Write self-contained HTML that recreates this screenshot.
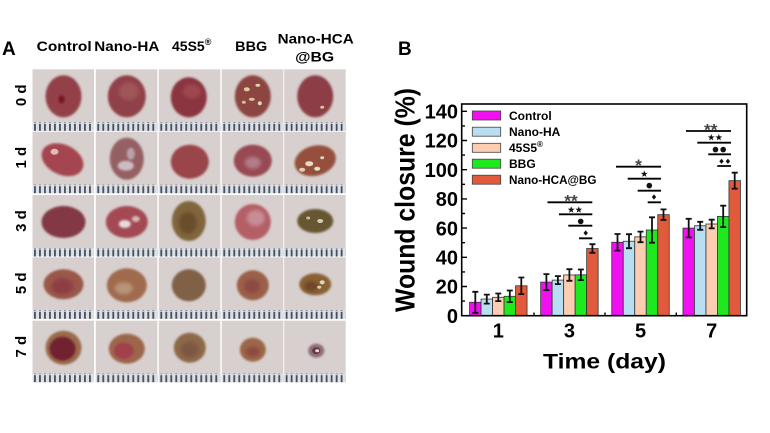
<!DOCTYPE html>
<html><head><meta charset="utf-8"><style>
html,body{margin:0;padding:0;background:#fff;}
svg{display:block;}
text{font-family:"Liberation Sans",Arial,sans-serif;font-weight:bold;fill:#000;}
</style></head><body>
<svg width="770" height="433" viewBox="0 0 770 433" xmlns="http://www.w3.org/2000/svg">
<defs>
<pattern id="rul" patternUnits="userSpaceOnUse" width="5" height="9"><rect width="5" height="9" fill="#dcdfe4"/><rect x="1.6" y="0.5" width="1.7" height="8" fill="#3c4656"/></pattern>
<filter id="bl" x="-20%" y="-20%" width="140%" height="140%"><feGaussianBlur stdDeviation="1"/></filter>
<filter id="bl2" x="-20%" y="-20%" width="140%" height="140%"><feGaussianBlur stdDeviation="1.8"/></filter>
<polygon id="star" points="0,-3.6 0.85,-1.17 3.42,-1.11 1.38,0.45 2.12,2.91 0,1.45 -2.12,2.91 -1.38,0.45 -3.42,-1.11 -0.85,-1.17" fill="#111"/>
<polygon id="dia" points="0,-2.6 2.2,0 0,2.6 -2.2,0" fill="#111"/>
<rect id="cellbg" width="61.5" height="61.5" fill="#d8d0ce"/>
<rect id="ruler" y="53" width="61.5" height="8.5" fill="url(#rul)"/>
</defs>
<rect width="770" height="433" fill="#fff"/>

<!-- Panel A -->
<text x="2" y="55" font-size="19">A</text>
<text x="64.2" y="51" font-size="14" text-anchor="middle" textLength="55" lengthAdjust="spacingAndGlyphs">Control</text>
<text x="126.8" y="51" font-size="14" text-anchor="middle" textLength="65" lengthAdjust="spacingAndGlyphs">Nano-HA</text>
<text x="191.7" y="51" font-size="14" text-anchor="middle">45S5<tspan font-size="9" dy="-6">®</tspan></text>
<text x="251.2" y="51" font-size="14" text-anchor="middle" textLength="32" lengthAdjust="spacingAndGlyphs">BBG</text>
<text x="315.7" y="43.3" font-size="14" text-anchor="middle" textLength="76" lengthAdjust="spacingAndGlyphs">Nano-HCA</text>
<text x="314.7" y="61.7" font-size="14" text-anchor="middle" textLength="39" lengthAdjust="spacingAndGlyphs">@BG</text>

<text transform="translate(26,95.3) rotate(-90)" font-size="15" text-anchor="middle">0 d</text>
<text transform="translate(26,157.7) rotate(-90)" font-size="15" text-anchor="middle">1 d</text>
<text transform="translate(26,221) rotate(-90)" font-size="15" text-anchor="middle">3 d</text>
<text transform="translate(26,283.3) rotate(-90)" font-size="15" text-anchor="middle">5 d</text>
<text transform="translate(26,346.7) rotate(-90)" font-size="15" text-anchor="middle">7 d</text>

<!-- Row 0d -->
<g transform="translate(32.5,69.3)"><use href="#cellbg"/>
<ellipse cx="31" cy="27" rx="18" ry="21" fill="#94404a" filter="url(#bl)"/><ellipse cx="29" cy="30" rx="3" ry="4" fill="#741824" filter="url(#bl)"/><use href="#ruler"/></g>
<g transform="translate(95.8,69.3)"><use href="#cellbg"/>
<ellipse cx="31" cy="27" rx="19" ry="21" fill="#904048" filter="url(#bl)"/><ellipse cx="33" cy="22" rx="10" ry="9" fill="#a05458" filter="url(#bl2)"/><use href="#ruler"/></g>
<g transform="translate(158.8,69.3)"><use href="#cellbg"/>
<ellipse cx="30" cy="28" rx="18" ry="20" fill="#8a3440" filter="url(#bl)"/><ellipse cx="33" cy="22" rx="9" ry="7" fill="#9e464e" filter="url(#bl2)"/><use href="#ruler"/></g>
<g transform="translate(221.8,69.3)"><use href="#cellbg"/>
<ellipse cx="31" cy="27" rx="18" ry="21" fill="#8c4440" filter="url(#bl)"/>
<ellipse cx="25" cy="20" rx="3" ry="2" fill="#dccca4"/><ellipse cx="36" cy="16" rx="2.5" ry="1.5" fill="#e0d2b0"/><ellipse cx="30" cy="30" rx="3" ry="1.5" fill="#d8c69c"/><ellipse cx="38" cy="34" rx="2" ry="2" fill="#e2d6b8"/><ellipse cx="22" cy="33" rx="2" ry="1.5" fill="#d6c296"/><use href="#ruler"/></g>
<g transform="translate(284.2,69.3)"><use href="#cellbg"/>
<ellipse cx="31" cy="27" rx="18" ry="21" fill="#8c3c44" filter="url(#bl)"/><ellipse cx="38" cy="38" rx="2" ry="1.5" fill="#d6c4b0"/><use href="#ruler"/></g>

<!-- Row 1d -->
<g transform="translate(32.5,131.7)"><use href="#cellbg"/>
<ellipse cx="30" cy="28" rx="22" ry="15" transform="rotate(25 30 28)" fill="#a44450" filter="url(#bl)"/><ellipse cx="22" cy="20" rx="4" ry="3" fill="#dcbcb4"/><use href="#ruler"/></g>
<g transform="translate(95.8,131.7)"><use href="#cellbg"/>
<ellipse cx="31" cy="27" rx="17" ry="21" fill="#946064" filter="url(#bl)"/><ellipse cx="30" cy="34" rx="8" ry="5" fill="#ccbcc0" filter="url(#bl)"/><ellipse cx="35" cy="22" rx="4" ry="6" fill="#bca0a8" filter="url(#bl)"/><use href="#ruler"/></g>
<g transform="translate(158.8,131.7)"><use href="#cellbg"/>
<ellipse cx="31" cy="30" rx="19" ry="17" fill="#9a4448" filter="url(#bl)"/><use href="#ruler"/></g>
<g transform="translate(221.8,131.7)"><use href="#cellbg"/>
<ellipse cx="31" cy="29" rx="19" ry="16" fill="#984a52" filter="url(#bl)"/><ellipse cx="31" cy="31" rx="8" ry="6" fill="#b47c86" filter="url(#bl2)"/><use href="#ruler"/></g>
<g transform="translate(284.2,131.7)"><use href="#cellbg"/>
<ellipse cx="31" cy="29" rx="21" ry="15" transform="rotate(-15 31 29)" fill="#96503e" filter="url(#bl)"/>
<ellipse cx="25" cy="32" rx="4" ry="2.5" fill="#e4dcc4"/><ellipse cx="33" cy="37" rx="3" ry="2" fill="#e6e0ca"/><ellipse cx="18" cy="38" rx="3" ry="2" fill="#dcd0b4"/><ellipse cx="38" cy="26" rx="2" ry="1.5" fill="#e2d6b8"/><use href="#ruler"/></g>

<!-- Row 3d -->
<g transform="translate(32.5,195)"><use href="#cellbg"/>
<ellipse cx="31" cy="27" rx="22" ry="16" fill="#823844" filter="url(#bl)"/><use href="#ruler"/></g>
<g transform="translate(95.8,195)"><use href="#cellbg"/>
<ellipse cx="31" cy="27" rx="21" ry="16" fill="#a44a52" filter="url(#bl)"/><ellipse cx="29" cy="29" rx="6" ry="4" fill="#e6dada" filter="url(#bl)"/><ellipse cx="40" cy="24" rx="4" ry="3" fill="#d4b8b8" filter="url(#bl)"/><use href="#ruler"/></g>
<g transform="translate(158.8,195)"><use href="#cellbg"/>
<ellipse cx="30" cy="26" rx="17" ry="20" fill="#80663c" filter="url(#bl)"/><ellipse cx="29" cy="28" rx="9" ry="11" fill="#6a4e2c" filter="url(#bl2)"/><use href="#ruler"/></g>
<g transform="translate(221.8,195)"><use href="#cellbg"/>
<ellipse cx="31" cy="27" rx="18" ry="18" fill="#b45e66" filter="url(#bl)"/><ellipse cx="34" cy="23" rx="9" ry="8" fill="#c88c94" filter="url(#bl2)"/><use href="#ruler"/></g>
<g transform="translate(284.2,195)"><use href="#cellbg"/>
<ellipse cx="31" cy="26" rx="18" ry="12" fill="#665630" filter="url(#bl)"/><ellipse cx="36" cy="26" rx="3" ry="2" fill="#d8cdb0"/><ellipse cx="24" cy="23" rx="2" ry="1.5" fill="#ccbc94"/><use href="#ruler"/></g>

<!-- Row 5d -->
<g transform="translate(32.5,257.3)"><use href="#cellbg"/>
<ellipse cx="31" cy="27" rx="20" ry="15" fill="#9a5848" filter="url(#bl)"/><ellipse cx="30" cy="29" rx="11" ry="8" fill="#8e3e44" filter="url(#bl2)"/><use href="#ruler"/></g>
<g transform="translate(95.8,257.3)"><use href="#cellbg"/>
<ellipse cx="31" cy="28" rx="20" ry="17" fill="#a06a4e" filter="url(#bl)"/><ellipse cx="28" cy="31" rx="9" ry="6" fill="#b89478" filter="url(#bl2)"/><use href="#ruler"/></g>
<g transform="translate(158.8,257.3)"><use href="#cellbg"/>
<ellipse cx="30" cy="28" rx="17" ry="16" fill="#806046" filter="url(#bl)"/><use href="#ruler"/></g>
<g transform="translate(221.8,257.3)"><use href="#cellbg"/>
<ellipse cx="31" cy="28" rx="16" ry="15" fill="#9a6048" filter="url(#bl)"/><ellipse cx="30" cy="29" rx="8" ry="7" fill="#8c4842" filter="url(#bl2)"/><use href="#ruler"/></g>
<g transform="translate(284.2,257.3)"><use href="#cellbg"/>
<ellipse cx="31" cy="27" rx="16" ry="11" fill="#8a6234" filter="url(#bl)"/><ellipse cx="27" cy="29" rx="7" ry="5" fill="#6e4628" filter="url(#bl2)"/><ellipse cx="38" cy="25" rx="2.5" ry="2" fill="#e0d4ba"/><ellipse cx="35" cy="30" rx="2" ry="1.5" fill="#dacdb2"/><use href="#ruler"/></g>

<!-- Row 7d -->
<g transform="translate(32.5,320.7)"><use href="#cellbg"/>
<ellipse cx="31" cy="27" rx="18" ry="17" fill="#9a6a4c" filter="url(#bl)"/><ellipse cx="30" cy="28" rx="13" ry="12" fill="#72222e" filter="url(#bl)"/><use href="#ruler"/></g>
<g transform="translate(95.8,320.7)"><use href="#cellbg"/>
<ellipse cx="31" cy="28" rx="18" ry="15" fill="#9c664c" filter="url(#bl)"/><ellipse cx="28" cy="30" rx="10" ry="8" fill="#a2404c" filter="url(#bl)"/><use href="#ruler"/></g>
<g transform="translate(158.8,320.7)"><use href="#cellbg"/>
<ellipse cx="31" cy="27" rx="16" ry="15" fill="#8c6a4a" filter="url(#bl)"/><ellipse cx="31" cy="29" rx="9" ry="8" fill="#7e5642" filter="url(#bl2)"/><use href="#ruler"/></g>
<g transform="translate(221.8,320.7)"><use href="#cellbg"/>
<ellipse cx="31" cy="29" rx="13" ry="12" fill="#9c6648" filter="url(#bl)"/><ellipse cx="31" cy="31" rx="7" ry="5" fill="#8e4840" filter="url(#bl2)"/><use href="#ruler"/></g>
<g transform="translate(284.2,320.7)"><use href="#cellbg"/>
<ellipse cx="32" cy="30" rx="8" ry="7" fill="#8e6c7a" filter="url(#bl)"/><ellipse cx="32" cy="30" rx="4" ry="3.5" fill="#643842"/><ellipse cx="33" cy="30" rx="2" ry="1.5" fill="#e2dad2"/><use href="#ruler"/></g>

<!-- Panel B -->
<text x="398" y="55" font-size="19">B</text>

<!-- bars -->
<g stroke="#333" stroke-width="0.8">
<rect x="469.55" y="302.27" width="11.5" height="13.43" fill="#f010f0"/>
<rect x="481.05" y="299.06" width="11.5" height="16.64" fill="#b8def2"/>
<rect x="492.55" y="297.3" width="11.5" height="18.4" fill="#fccdb0"/>
<rect x="504.05" y="296.28" width="11.5" height="19.42" fill="#1ee81e"/>
<rect x="515.55" y="285.77" width="11.5" height="29.93" fill="#e25a3c"/>

<rect x="540.65" y="282.1" width="11.5" height="33.6" fill="#f010f0"/>
<rect x="552.15" y="280.1" width="11.5" height="35.6" fill="#b8def2"/>
<rect x="563.65" y="274.97" width="11.5" height="40.73" fill="#fccdb0"/>
<rect x="575.15" y="274.82" width="11.5" height="40.88" fill="#1ee81e"/>
<rect x="586.65" y="248.54" width="11.5" height="67.16" fill="#e25a3c"/>

<rect x="611.75" y="242.26" width="11.5" height="73.44" fill="#f010f0"/>
<rect x="623.25" y="241.24" width="11.5" height="74.46" fill="#b8def2"/>
<rect x="634.75" y="236.86" width="11.5" height="78.84" fill="#fccdb0"/>
<rect x="646.25" y="230" width="11.5" height="85.7" fill="#1ee81e"/>
<rect x="657.75" y="214.67" width="11.5" height="101.03" fill="#e25a3c"/>

<rect x="682.95" y="228.1" width="11.5" height="87.6" fill="#f010f0"/>
<rect x="694.45" y="225.76" width="11.5" height="89.94" fill="#b8def2"/>
<rect x="705.95" y="224.01" width="11.5" height="91.69" fill="#fccdb0"/>
<rect x="717.45" y="216.42" width="11.5" height="99.28" fill="#1ee81e"/>
<rect x="728.95" y="180.65" width="11.5" height="135.05" fill="#e25a3c"/>
</g>

<!-- error bars -->
<path fill="none" stroke="#111" stroke-width="1.8" d="
M475.3 291.8V312.8M472.3 291.8H478.3M472.3 312.8H478.3
M486.8 294.6V303.6M483.8 294.6H489.8M483.8 303.6H489.8
M498.3 293.5V301.1M495.3 293.5H501.3M495.3 301.1H501.3
M509.8 290.5V302.1M506.8 290.5H512.8M506.8 302.1H512.8
M521.3 277.5V294.1M518.3 277.5H524.3M518.3 294.1H524.3
M546.4 274.1V290.1M543.4 274.1H549.4M543.4 290.1H549.4
M557.9 276.1V284.1M554.9 276.1H560.9M554.9 284.1H560.9
M569.4 269.2V280.8M566.4 269.2H572.4M566.4 280.8H572.4
M580.9 269.5V280.1M577.9 269.5H583.9M577.9 280.1H583.9
M592.4 244.2V252.8M589.4 244.2H595.4M589.4 252.8H595.4
M617.5 234.0V250.6M614.5 234.0H620.5M614.5 250.6H620.5
M629.0 234.2V248.2M626.0 234.2H632.0M626.0 248.2H632.0
M640.5 231.6V242.2M637.5 231.6H643.5M637.5 242.2H643.5
M652.0 217.3V242.7M649.0 217.3H655.0M649.0 242.7H655.0
M663.5 209.4V220.0M660.5 209.4H666.5M660.5 220.0H666.5
M688.7 218.8V237.4M685.7 218.8H691.7M685.7 237.4H691.7
M700.2 221.8V229.8M697.2 221.8H703.2M697.2 229.8H703.2
M711.7 219.7V228.3M708.7 219.7H714.7M708.7 228.3H714.7
M723.2 205.7V227.1M720.2 205.7H726.2M720.2 227.1H726.2
M734.7 172.7V188.7M731.7 172.7H737.7M731.7 188.7H737.7"/>

<!-- frame & ticks -->
<rect x="461.7" y="104" width="285" height="211.7" fill="none" stroke="#000" stroke-width="1.6"/>
<path fill="none" stroke="#000" stroke-width="1.4" d="
M461.7 286.5H467M461.7 257.3H467M461.7 228.1H467M461.7 198.9H467M461.7 169.7H467M461.7 140.5H467M461.7 111.3H467
M461.7 301.1H465M461.7 271.9H465M461.7 242.7H465M461.7 213.5H465M461.7 184.3H465M461.7 155.1H465M461.7 125.9H465
M534 315.7V312.5M605 315.7V312.5M676.3 315.7V312.5"/>

<!-- tick labels -->
<g font-size="20" text-anchor="end">
<text x="458" y="322.9">0</text>
<text x="458" y="293.7">20</text>
<text x="458" y="264.5">40</text>
<text x="458" y="235.3">60</text>
<text x="458" y="206.1">80</text>
<text x="458" y="176.9">100</text>
<text x="458" y="147.7">120</text>
<text x="458" y="118.5">140</text>
</g>
<g font-size="20" text-anchor="middle">
<text x="498.3" y="337.7">1</text>
<text x="569.4" y="337.7">3</text>
<text x="640.5" y="337.7">5</text>
<text x="711.7" y="337.7">7</text>
</g>
<text x="604.5" y="368.3" font-size="21" text-anchor="middle" textLength="123" lengthAdjust="spacingAndGlyphs">Time (day)</text>
<text transform="translate(414.3,200) rotate(-90)" font-size="28" text-anchor="middle" textLength="224" lengthAdjust="spacingAndGlyphs">Wound closure (%)</text>

<!-- legend -->
<g stroke="#444" stroke-width="0.8">
<rect x="472.3" y="111" width="28.4" height="9" fill="#f010f0"/>
<rect x="472.3" y="127.2" width="28.4" height="9" fill="#b8def2"/>
<rect x="472.3" y="143.3" width="28.4" height="9" fill="#fccdb0"/>
<rect x="472.3" y="159.2" width="28.4" height="9" fill="#1ee81e"/>
<rect x="472.3" y="175.2" width="28.4" height="9" fill="#e25a3c"/>
</g>
<g font-size="12">
<text x="509" y="120">Control</text>
<text x="509" y="136.2">Nano-HA</text>
<text x="509" y="152.2">45S5<tspan font-size="8" dy="-5">®</tspan></text>
<text x="509" y="168.1">BBG</text>
<text x="509" y="184.1" textLength="87.5" lengthAdjust="spacingAndGlyphs">Nano-HCA@BG</text>
</g>

<!-- significance -->
<path fill="none" stroke="#000" stroke-width="1.8" d="
M547.5 202.3H592.3M559 214.3H592.3M568.3 225.7H592.3M579 238.3H592.3
M616 166.7H661M627.7 178.7H661M637.7 190.7H661M647.7 202.3H661
M686 131H731M697.3 142.7H731M708.3 154.3H731M717.3 166H731"/>
<g font-size="17" text-anchor="middle">
<text x="571" y="206.5" style="fill:#444">**</text>
<text x="638.5" y="171" style="fill:#444">*</text>
<text x="710.7" y="135.5" style="fill:#444">**</text>
</g>
<use href="#star" x="571.2" y="209.8"/><use href="#star" x="578.8" y="209.8"/>
<use href="#star" x="644.3" y="174"/>
<use href="#star" x="711.2" y="137.5"/><use href="#star" x="718.8" y="137.5"/>
<circle cx="580.7" cy="221.4" r="2.8" fill="#111"/>
<circle cx="649.3" cy="185.6" r="2.8" fill="#111"/>
<circle cx="715.5" cy="149.6" r="2.8" fill="#111"/><circle cx="723.2" cy="149.6" r="2.8" fill="#111"/>
<use href="#dia" x="585.7" y="233"/>
<use href="#dia" x="654" y="197"/>
<use href="#dia" x="721.5" y="161.3"/><use href="#dia" x="727.9" y="161.3"/>
</svg>
</body></html>
